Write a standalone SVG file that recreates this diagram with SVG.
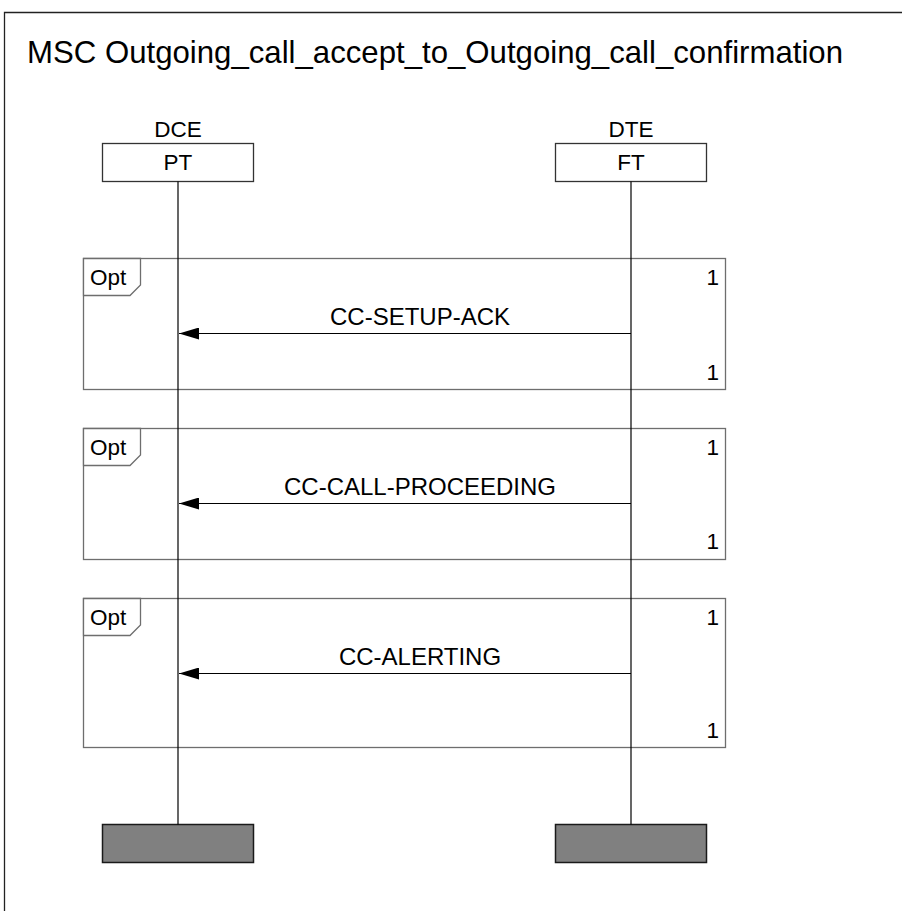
<svg xmlns="http://www.w3.org/2000/svg" width="902" height="911" viewBox="0 0 902 911">
<style>
text{font-family:"Liberation Sans",Arial,sans-serif;fill:#000}
.t{font-size:22.5px}
.m{font-size:24px}
.title{font-size:32px}
.frame{fill:none;stroke:#6e6e6e;stroke-width:1.3}
.tab{fill:#fff;stroke:#6e6e6e;stroke-width:1.3}
.life{stroke:#000;stroke-width:1.2;fill:none}
.head{fill:#fff;stroke:#333;stroke-width:1.3}
.end{fill:#808080;stroke:#1a1a1a;stroke-width:1.5}
.msg{stroke:#000;stroke-width:1.2;fill:none;marker-end:url(#ah)}
</style>
<defs>
<marker id="ah" markerWidth="20" markerHeight="12" refX="20" refY="6" orient="auto" markerUnits="userSpaceOnUse">
<path d="M0,0 L20,6 L0,12 Z" fill="#000"/>
</marker>
</defs>
<rect x="0" y="0" width="902" height="911" fill="#fff"/>
<g id="border">
<path d="M4.5,911 V12.5 H902" fill="none" stroke="#222" stroke-width="1.3"/>
<text class="title" x="27" y="63" textLength="816" lengthAdjust="spacingAndGlyphs">MSC Outgoing_call_accept_to_Outgoing_call_confirmation</text>
</g>
<g id="frames">
<g id="opt1">
<rect class="frame" x="83.5" y="258.5" width="642" height="131"/>
<path class="tab" d="M83.5,258.5 H140.5 V285 L130,295.5 H83.5 Z"/>
<text class="t" x="90" y="285">Opt</text>
<text class="t" x="719" y="285" text-anchor="end">1</text>
<text class="t" x="719" y="380" text-anchor="end">1</text>
</g>
<g id="opt2">
<rect class="frame" x="83.5" y="428.5" width="642" height="131"/>
<path class="tab" d="M83.5,428.5 H140.5 V455 L130,465.5 H83.5 Z"/>
<text class="t" x="90" y="455">Opt</text>
<text class="t" x="719" y="455" text-anchor="end">1</text>
<text class="t" x="719" y="549" text-anchor="end">1</text>
</g>
<g id="opt3">
<rect class="frame" x="83.5" y="598.5" width="642" height="149"/>
<path class="tab" d="M83.5,598.5 H140.5 V625 L130,635.5 H83.5 Z"/>
<text class="t" x="90" y="625">Opt</text>
<text class="t" x="719" y="625" text-anchor="end">1</text>
<text class="t" x="719" y="738" text-anchor="end">1</text>
</g>
</g>
<g id="DCE">
<text class="t" x="178" y="137" text-anchor="middle">DCE</text>
<rect class="head" x="102.5" y="143.5" width="151" height="38"/>
<text class="t" x="178" y="170" text-anchor="middle">PT</text>
<rect class="end" x="102.5" y="824.5" width="151" height="38"/>
</g>
<g id="DTE">
<text class="t" x="631" y="137" text-anchor="middle">DTE</text>
<rect class="head" x="555.5" y="143.5" width="151" height="38"/>
<text class="t" x="631" y="170" text-anchor="middle">FT</text>
<rect class="end" x="555.5" y="824.5" width="151" height="38"/>
</g>
<g id="connectors">
<line class="life" x1="178" y1="181.5" x2="178" y2="824.5"/>
<line class="life" x1="631" y1="181.5" x2="631" y2="824.5"/>
<line class="msg" x1="631" y1="333.5" x2="179" y2="333.5"/>
<text class="m" x="420" y="325" text-anchor="middle">CC-SETUP-ACK</text>
<line class="msg" x1="631" y1="503.5" x2="179" y2="503.5"/>
<text class="m" x="420" y="495" text-anchor="middle">CC-CALL-PROCEEDING</text>
<line class="msg" x1="631" y1="673.5" x2="179" y2="673.5"/>
<text class="m" x="420" y="665" text-anchor="middle">CC-ALERTING</text>
</g>
</svg>
